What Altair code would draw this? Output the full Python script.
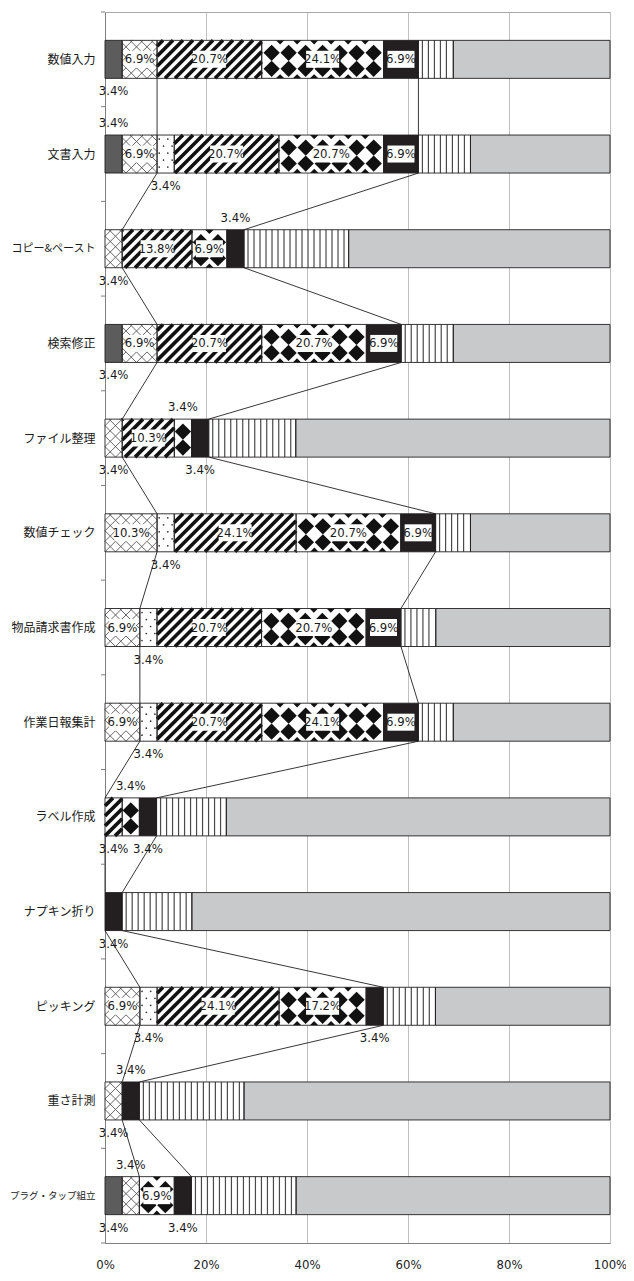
import json
import altair as alt
import pandas as pd

# ---------------- data (percent of respondents, n = 29) ----------------
categories = [
    "数値入力", "文書入力", "コピー&ペースト", "検索修正", "ファイル整理",
    "数値チェック", "物品請求書作成", "作業日報集計", "ラベル作成",
    "ナプキン折り", "ピッキング", "重さ計測", "プラグ・タップ組立",
]
series_names = ["A", "B", "C", "D", "E", "F", "G", "H"]

s_A = [3.4, 3.4, 0, 3.4, 0, 0, 0, 0, 0, 0, 0, 0, 3.4]
s_B = [6.9, 6.9, 3.4, 6.9, 3.4, 10.3, 6.9, 6.9, 0, 0, 6.9, 3.4, 3.4]
s_C = [0, 3.4, 0, 0, 0, 3.4, 3.4, 3.4, 0, 0, 3.4, 0, 0]
s_D = [20.7, 20.7, 13.8, 20.7, 10.3, 24.1, 20.7, 20.7, 3.4, 0, 24.1, 0, 0]
s_E = [24.1, 20.7, 6.9, 20.7, 3.4, 20.7, 20.7, 24.1, 3.4, 0, 17.2, 0, 6.9]
s_F = [6.9, 6.9, 3.4, 6.9, 3.4, 6.9, 6.9, 6.9, 3.4, 3.4, 3.4, 3.4, 3.4]
s_G = [6.9, 10.3, 20.7, 10.3, 17.2, 6.9, 6.9, 6.9, 13.8, 13.8, 10.3, 20.7, 20.7]
s_H = [31.0, 27.6, 51.7, 31.0, 62.1, 27.6, 34.5, 31.0, 75.9, 82.8, 34.5, 72.4, 62.1]

series_values = {"A": s_A, "B": s_B, "C": s_C, "D": s_D,
                 "E": s_E, "F": s_F, "G": s_G, "H": s_H}
labelled_series = ["A", "B", "C", "D", "E", "F"]
line_series = ["B", "F"]
# small labels placed above the bar (all others go below)
labels_above = [("文書入力", "A"), ("コピー&ペースト", "F"), ("ファイル整理", "E"),
                ("ラベル作成", "E"), ("重さ計測", "F"), ("プラグ・タップ組立", "B")]

# ---------------- styling ----------------
fills = {"A": "#5c5c5c", "B": "#ffffff", "C": "#ffffff", "D": "#ffffff",
         "E": "#ffffff", "F": "#231f20", "G": "#ffffff", "H": "#c8c9ca"}
NARROW = "Liberation Sans Narrow, DejaVu Sans Condensed, Arial Narrow, sans-serif"
JP = "Noto Sans CJK JP"
W, H = 505, 1231
N = len(categories)
PX = W                 # pixels per x unit (0..1)
PY = H / N             # pixels per category
BAR = 38               # bar thickness, px
HB = BAR / 2 / PY      # half bar thickness in y units

# ---------------- derived tables ----------------
rows = []
for i, task in enumerate(categories):
    vals = [series_values[s][i] for s in series_names]
    total = sum(vals)
    cum = 0.0
    for s, v in zip(series_names, vals):
        start = cum / total
        cum += v
        end = cum / total
        rows.append(dict(task=task, idx=i, ser=s, val=v, start=start, end=end,
                         mid=(start + end) / 2, y0=i - HB, y1=i + HB,
                         label=f"{v:.1f}%"))
df = pd.DataFrame(rows)
seg = df[df.val > 0].copy()


# ----- hatch patterns generated from each segment's extent -----
def diag_lines(i, x0, x1, period, sign):
    """45-degree lines clipped to the segment [x0, x1] of bar i (pixel maths)."""
    us, ue = x0 * PX, x1 * PX
    out = []
    k0 = int((us - BAR) // period) - 1
    k1 = int((ue + BAR) // period) + 2
    for k in range(k0, k1):
        c = k * period
        if sign > 0:
            vmin, vmax = max(0.0, us - c), min(BAR, ue - c)
        else:
            vmin, vmax = max(0.0, c - ue), min(BAR, c - us)
        if vmax - vmin < 0.5:
            continue
        ua, ub = c + sign * vmin, c + sign * vmax
        out.append(dict(x=ua / PX, x2=ub / PX,
                        y=i + (BAR / 2 - vmin) / PY, y2=i + (BAR / 2 - vmax) / PY))
    return out


stripes_D, hatch_B, dots_C, diam_E, vlines_G, tri_top, tri_bot = [], [], [], [], [], [], []
for r in seg.itertuples():
    if r.ser == "D":
        stripes_D += diag_lines(r.idx, r.start, r.end, 10.0, +1)
    elif r.ser == "B":
        hatch_B += diag_lines(r.idx, r.start, r.end, 10.5, +1)
        hatch_B += diag_lines(r.idx, r.start, r.end, 10.5, -1)
    elif r.ser == "G":
        us, ue = r.start * PX, r.end * PX
        u = us + 4.0
        while u < ue - 1.5:
            vlines_G.append(dict(x=u / PX, y=r.y0, y2=r.y1))
            u += 6.0
    elif r.ser == "C":
        us, ue = r.start * PX, r.end * PX
        ncol = max(1, int((ue - us) // 7))
        step = (ue - us) / ncol
        for c in range(ncol):
            for j, v in enumerate([4.0, 11.0, 18.0, 25.0, 32.0]):
                off = (0.25 if j % 2 == 0 else 0.75) * step
                dots_C.append(dict(x=(us + c * step + off) / PX, y=r.idx + (v - BAR / 2) / PY))
    elif r.ser == "E":
        us, ue = r.start * PX, r.end * PX
        per = 17.0
        ncol = max(1, int((ue - us) // per))
        pad = ((ue - us) - ncol * per) / 2
        for c in range(ncol):
            u = us + pad + (c + 0.5) * per
            for v in (12.5, 28.5):
                diam_E.append(dict(x=u / PX, y=r.idx + (v - BAR / 2) / PY))
        for c in range(1, ncol):
            u = us + pad + c * per
            tri_top.append(dict(x=u / PX, y=r.y0))
            tri_bot.append(dict(x=u / PX, y=r.y1))

lab = df[(df.val > 0) & df.ser.isin(labelled_series)].copy()
inside = lab[lab.val >= 5].copy()
inside["half"] = (inside.label.str.len() * 6.0 + 3) / 2 / W
inside["lo"] = inside.mid - inside.half
inside["hi"] = inside.mid + inside.half
inside["b0"] = inside.idx - 8.5 / PY
inside["b1"] = inside.idx + 8.5 / PY
small = lab[lab.val < 5].copy()
keys = list(zip(small["task"], small["ser"]))
is_above = [k in labels_above for k in keys]
above = small[is_above]
below = small[[not a for a in is_above]]

lines = []
for s in line_series:
    sub = df[df.ser == s].set_index("idx")
    for i in range(N - 1):
        lines.append(dict(x=sub.loc[i, "end"], x2=sub.loc[i + 1, "end"],
                          y=i + HB, y2=i + 1 - HB))
lines_df = pd.DataFrame(lines)
ticks_df = pd.DataFrame({"y": [k - 0.5 for k in range(N + 1)]})

# ---------------- scales / axes ----------------
x_scale = alt.Scale(domain=[0, 1], nice=False)
y_scale = alt.Scale(domain=[-0.5, N - 0.5], reverse=True, nice=False, zero=False)
label_expr = json.dumps(categories, ensure_ascii=False) + "[datum.value]"
y_axis = alt.Axis(
    title=None, values=list(range(N)), labelExpr=label_expr, ticks=False,
    domainColor="#808080", labelFont=JP,
    labelFontSize={"condition": [{"test": "datum.value == 12", "value": 9.5},
                                 {"test": "datum.value == 2", "value": 11}],
                   "value": 12},
    labelColor="#1a1a1a", labelPadding=10, grid=False,
)
x_axis = alt.Axis(
    title=None, format="%", values=[0, 0.2, 0.4, 0.6, 0.8, 1.0], grid=True,
    gridColor="#bfbfbf", ticks=False, domainColor="#808080", labelFont=NARROW,
    labelFontSize=13, labelColor="#222222", labelPadding=15, labelFlush=False,
)


def X(f):
    return alt.X(f, type="quantitative", scale=x_scale, axis=x_axis)


def Y(f):
    return alt.Y(f, type="quantitative", scale=y_scale, axis=y_axis)


fill_scale = alt.Scale(domain=series_names, range=[fills[s] for s in series_names])

base_fill = alt.Chart(seg).mark_rect().encode(
    x=X("start"), x2="end", y=Y("y0"), y2="y1",
    color=alt.Color("ser:N", scale=fill_scale, legend=None),
)
pat_D = alt.Chart(pd.DataFrame(stripes_D)).mark_rule(
    color="#111111", strokeWidth=3.6, strokeCap="butt").encode(
    x=X("x"), x2="x2", y=Y("y"), y2="y2")
pat_B = alt.Chart(pd.DataFrame(hatch_B)).mark_rule(
    color="#555555", strokeWidth=0.9).encode(
    x=X("x"), x2="x2", y=Y("y"), y2="y2")
pat_G = alt.Chart(pd.DataFrame(vlines_G)).mark_rule(
    color="#4a4a4a", strokeWidth=1.2).encode(
    x=X("x"), y=Y("y"), y2="y2")
pat_C = alt.Chart(pd.DataFrame(dots_C)).mark_circle(
    color="#333333", size=3, opacity=1).encode(x=X("x"), y=Y("y"))
pat_E = alt.Chart(pd.DataFrame(diam_E)).mark_point(
    shape="diamond", filled=True, color="#111111", size=265, opacity=1).encode(
    x=X("x"), y=Y("y"))
pat_E_top = alt.Chart(pd.DataFrame(tri_top)).mark_point(
    shape="M-1,0L1,0L0,1Z", filled=True, color="#111111", size=70, opacity=1).encode(
    x=X("x"), y=Y("y"))
pat_E_bot = alt.Chart(pd.DataFrame(tri_bot)).mark_point(
    shape="M-1,0L1,0L0,-1Z", filled=True, color="#111111", size=70, opacity=1).encode(
    x=X("x"), y=Y("y"))

outline = alt.Chart(seg).mark_rect(
    fillOpacity=0, stroke="#231f20", strokeWidth=0.9).encode(
    x=X("start"), x2="end", y=Y("y0"), y2="y1")

series_lines = alt.Chart(lines_df).mark_rule(color="#231f20", strokeWidth=0.9).encode(
    x=X("x"), x2="x2", y=Y("y"), y2="y2")

tick_marks = alt.Chart(ticks_df).mark_rule(color="#808080", strokeWidth=1).encode(
    y=Y("y"), x=alt.value(-4), x2=alt.value(0))

boxes = alt.Chart(inside).mark_rect(color="white").encode(
    x=X("lo"), x2="hi", y=Y("b0"), y2="b1")

txt_style = dict(font=NARROW, fontSize=13, color="#1a1a1a", baseline="middle")
inside_txt = alt.Chart(inside).mark_text(**txt_style).encode(
    y=Y("idx"), x=X("mid"), text="label:N")
above_txt = alt.Chart(above).mark_text(dy=-31, **txt_style).encode(
    y=Y("idx"), x=X("mid"), text="label:N")
below_txt = alt.Chart(below).mark_text(dy=32, **txt_style).encode(
    y=Y("idx"), x=X("mid"), text="label:N")

chart = alt.layer(
    base_fill, pat_D, pat_B, pat_G, pat_C, pat_E, pat_E_top, pat_E_bot, outline,
    series_lines, tick_marks, boxes, inside_txt, above_txt, below_txt,
).properties(
    width=W, height=H,
    autosize=alt.AutoSizeParams(type="none"),
    padding={"left": 97, "top": 4, "right": 16, "bottom": 30},
).configure_view(stroke="#a6a6a6", strokeWidth=1)

chart.save("out.html", embed_options={"renderer": "svg", "actions": False})
